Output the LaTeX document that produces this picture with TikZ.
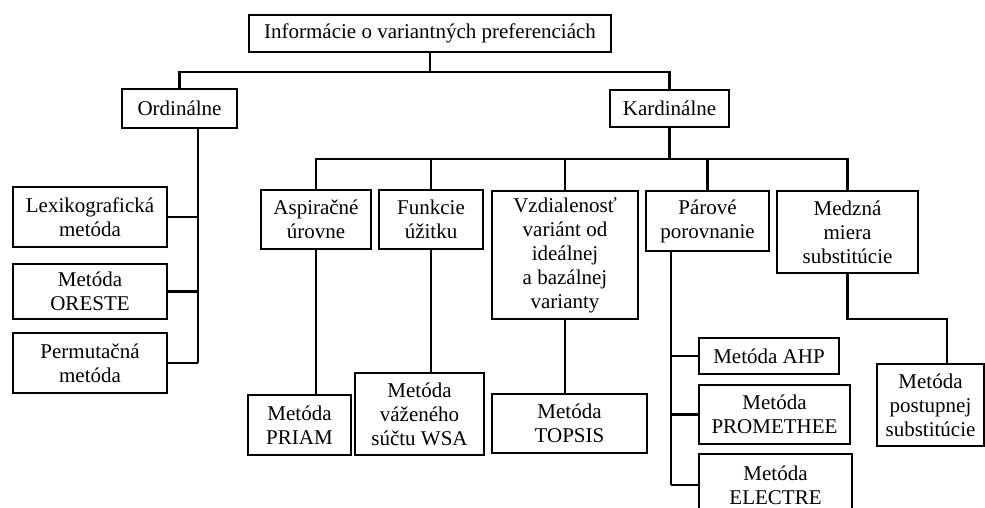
\documentclass[tikz,border=0pt]{standalone}
\usepackage{fontspec}
\setmainfont{Liberation Serif}
\begin{document}
\begin{tikzpicture}[x=1pt,y=-1pt,
  box/.style={draw=black, line width=2.2pt, fill=white, inner sep=0pt, align=center,
    font=\fontsize{21pt}{24pt}\selectfont},
  conn/.style={draw=black, line width=2.2pt}]
\useasboundingbox (0,0) rectangle (985,507);
\clip (0,0) rectangle (985,507);
\fill[white] (0,0) rectangle (985,507);
% nodes
\node[box, minimum width=362pt, minimum height=37pt] (top) at (430,33.5) {Informácie o variantných preferenciách};
\node[box, minimum width=115pt, minimum height=39pt] (ord) at (179.5,108.5) {Ordinálne};
\node[box, minimum width=119pt, minimum height=37pt] (kard) at (669.5,108.5) {Kardinálne};
\node[box, minimum width=154pt, minimum height=60pt] (lex) at (90,217) {Lexikografická\\metóda};
\node[box, minimum width=154pt, minimum height=55pt] (ore) at (90,291.5) {Metóda\\ORESTE};
\node[box, minimum width=154pt, minimum height=60pt] (perm) at (90,363) {Permutačná\\metóda};
\node[box, minimum width=110pt, minimum height=59pt] (asp) at (316,219.5) {Aspiračné\\úrovne};
\node[box, minimum width=104pt, minimum height=59pt] (fun) at (431,219.5) {Funkcie\\úžitku};
\node[box, minimum width=146pt, minimum height=128pt] (vzd) at (565,255) {Vzdialenosť\\variánt od\\ideálnej\\a bazálnej\\varianty};
\node[box, minimum width=123pt, minimum height=60pt] (par) at (707.5,221) {Párové\\porovnanie};
\node[box, minimum width=141pt, minimum height=82pt] (med) at (847.5,232) {Medzná\\miera\\substitúcie};
\node[box, minimum width=103pt, minimum height=60pt] (priam) at (299.5,425) {Metóda\\PRIAM};
\node[box, minimum width=129pt, minimum height=82pt] (wsa) at (419.5,414) {Metóda\\váženého\\súčtu WSA};
\node[box, minimum width=155pt, minimum height=59pt] (topsis) at (569.5,423.5) {Metóda\\TOPSIS};
\node[box, minimum width=140pt, minimum height=36pt] (ahp) at (769,356) {Metóda AHP};
\node[box, minimum width=151pt, minimum height=59pt] (prom) at (774.5,414.5) {Metóda\\PROMETHEE};
\node[box, minimum width=153pt, minimum height=62pt] (electre) at (775.5,485) {Metóda\\ELECTRE};
\node[box, minimum width=107pt, minimum height=82pt] (post) at (930.5,405) {Metóda\\postupnej\\substitúcie};
% junction coordinates
\coordinate (b1) at (0,72);
\coordinate (b2) at (0,159);
\coordinate (ov) at (198,0);
\coordinate (pv) at (671,0);
\coordinate (mv) at (947,319);
% connectors
\draw[conn] (top.south) -- (top.south |- b1);
\draw[conn] (ord.north) |- (b1 -| kard.north) -- (kard.north);
\draw[conn] (ord.south -| ov) -- (perm.east -| ov);
\draw[conn] (lex.east) -- (lex.east -| ov);
\draw[conn] (ore.east) -- (ore.east -| ov);
\draw[conn] (perm.east) -- (perm.east -| ov);
\draw[conn] (kard.south) -- (kard.south |- b2);
\draw[conn] (asp.north) |- (b2 -| med.north) -- (med.north);
\draw[conn] (fun.north) -- (fun.north |- b2);
\draw[conn] (vzd.north) -- (vzd.north |- b2);
\draw[conn] (par.north) -- (par.north |- b2);
\draw[conn] (asp.south) -- (asp.south |- priam.north);
\draw[conn] (fun.south) -- (fun.south |- wsa.north);
\draw[conn] (vzd.south) -- (vzd.south |- topsis.north);
\draw[conn] (par.south -| pv) -- (electre.west -| pv);
\draw[conn] (ahp.west) -- (ahp.west -| pv);
\draw[conn] (prom.west) -- (prom.west -| pv);
\draw[conn] (electre.west) -- (electre.west -| pv);
\draw[conn] (med.south) |- (mv) -- (mv |- post.north);
\end{tikzpicture}
\end{document}
